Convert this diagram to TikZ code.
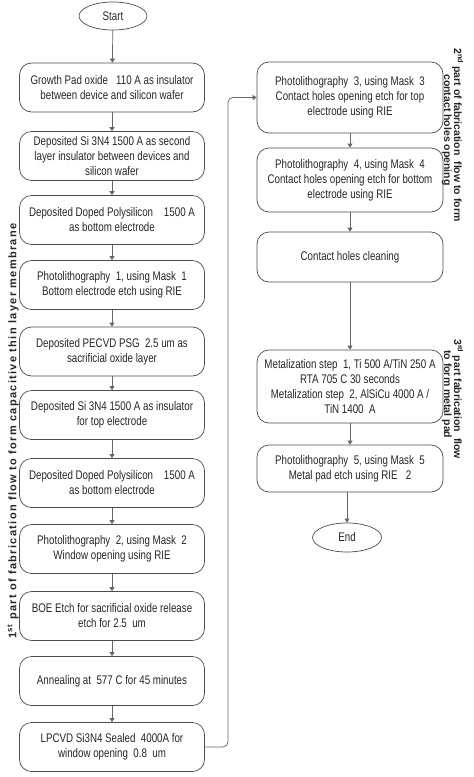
\documentclass[tikz,border=0pt]{standalone}
\usepackage{fontspec}
\setmainfont{Liberation Sans}[FakeStretch=0.78]
\newfontfamily\lblfont{Liberation Sans}[LetterSpace=12]
\newfontfamily\rlblfont{Liberation Sans}
\usetikzlibrary{arrows.meta,shapes.geometric}
\begin{document}
\begin{tikzpicture}[x=1pt,y=-1pt,
  box/.style={draw=black!70, line width=0.7pt, rounded corners=12pt, minimum width=185pt, minimum height=49pt, align=center, font=\fontsize{12.5}{15}\selectfont, text=black!85, inner sep=2pt},
  term/.style={draw=black!70, line width=0.7pt, ellipse, minimum width=68pt, minimum height=28pt, inner sep=0pt, font=\fontsize{12.5}{15}\selectfont, text=black!85},
  flow/.style={draw=black!60, line width=0.7pt, -{Triangle[width=5pt,length=4pt]}},
  sidel/.style={font=\lblfont\bfseries\fontsize{11}{13}\selectfont, text=black!85, inner sep=0pt},
  sider/.style={font=\rlblfont\bfseries\fontsize{10.5}{13}\selectfont, text=black!85, inner sep=0pt, rotate=-90, anchor=base west}
]
\useasboundingbox (0,0) rectangle (474,777);

% left column
\node[term] (start) at (113,16) {Start};
\node[box] (l1) at (112,87.5) {Growth Pad oxide \ \ 110 A as insulator\\between device and silicon wafer};
\node[box] (l2) at (112,156) {Deposited Si 3N4 1500 A as second\\layer insulator between devices and\\silicon wafer};
\node[box] (l3) at (112,220) {Deposited Doped Polysilicon \ \ \ 1500 A\\as bottom electrode};
\node[box] (l4) at (112,285) {Photolithography \ 1, using Mask \ 1\\Bottom electrode etch using RIE};
\node[box] (l5) at (112,351.5) {Deposited PECVD PSG \ 2.5 um as\\sacrificial oxide layer};
\node[box] (l6) at (112,415) {Deposited Si 3N4 1500 A as insulator\\for top electrode};
\node[box] (l7) at (112,483) {Deposited Doped Polysilicon \ \ \ 1500 A\\as bottom electrode};
\node[box] (l8) at (112,549) {Photolithography \ 2, using Mask \ 2\\Window opening using RIE};
\node[box] (l9) at (112,616) {BOE Etch for sacrificial oxide release\\etch for 2.5 \ um};
\node[box] (l10) at (112,681) {Annealing at \ 577 C for 45 minutes};
\node[box] (l11) at (112,747) {LPCVD Si3N4 Sealed \ 4000A for\\window opening \ 0.8 \ um};

% right column
\node[box, minimum width=186pt, minimum height=71pt] (r1) at (350,97.5) {Photolithography \ 3, using Mask \ 3\\Contact holes opening etch for top\\electrode using RIE};
\node[box, minimum width=186pt, minimum height=64pt] (r2) at (350,180) {Photolithography \ 4, using Mask \ 4\\Contact holes opening etch for bottom\\electrode using RIE};
\node[box, minimum width=186pt, minimum height=50pt] (r3) at (350,257) {Contact holes cleaning};
\node[box, minimum width=186pt, minimum height=73pt] (r4) at (350,386.5) {Metalization step \ 1, Ti 500 A/TiN 250 A\\RTA 705 C 30 seconds\\Metalization step \ 2, AlSiCu 4000 A /\\TiN 1400 \ A};
\node[box, minimum width=186pt, minimum height=47pt] (r5) at (350,468.5) {Photolithography \ 5, using Mask \ 5\\Metal pad etch using RIE \ \ 2};
\node[term, minimum width=69pt, minimum height=29pt] (end) at (347,537.5) {End};

% connectors
\draw[flow] (start) -- (l1);
\draw[flow] (l1) -- (l2);
\draw[flow] (l2) -- (l3);
\draw[flow] (l3) -- (l4);
\draw[flow] (l4) -- (l5);
\draw[flow] (l5) -- (l6);
\draw[flow] (l6) -- (l7);
\draw[flow] (l7) -- (l8);
\draw[flow] (l8) -- (l9);
\draw[flow] (l9) -- (l10);
\draw[flow] (l10) -- (l11);
\coordinate (lb) at (228,747);
\coordinate (lt) at (228,97.5);
\draw[flow, rounded corners=5pt] (l11.east) -- (lb) -- (lt) -- (r1.west);
\draw[flow] (r1) -- (r2);
\draw[flow] (r2) -- (r3);
\draw[flow] (r3) -- (r4);
\draw[flow] (r4) -- (r5);
\draw[flow] (r5.south -| end.north) -- (end);

% side labels
\node[sidel, rotate=90] (lab1) at (13,431) {1\textsuperscript{st} part of fabrication flow to form capacitive thin layer membrane};
\node[sider] (lab2a) at (454,48) {2\textsuperscript{nd} part of fabrication \ flow to form};
\node[sider] (lab2b) at (444,74) {contact holes opening};
\node[sider] (lab3a) at (454,339) {3\textsuperscript{rd} part fabrication \ flow};
\node[sider] (lab3b) at (444,350) {to form metal pad};
\end{tikzpicture}
\end{document}
